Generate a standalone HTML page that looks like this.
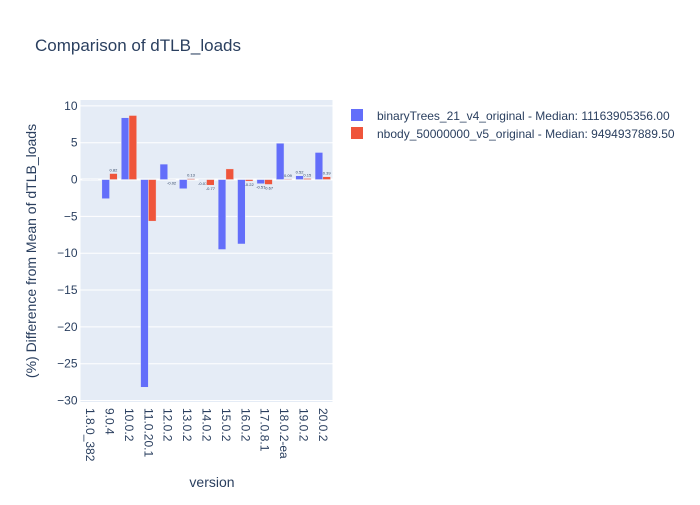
<!DOCTYPE html>
<html><head><meta charset="utf-8">
<style>
body{margin:0;background:#fff;}
svg text{font-family:"Liberation Sans",sans-serif;}
</style></head>
<body>
<svg id="chart" width="700" height="500" xmlns="http://www.w3.org/2000/svg">
<rect x="0" y="0" width="700" height="500" fill="#fff"/>
<rect x="80.5" y="100" width="252" height="302" fill="#e5ecf6"/>
<g id="grid"></g>
<g id="bars"></g>
<g id="yticks"></g>
<g id="xticks"></g>
<text x="35" y="51" font-size="17" fill="#2a3f5f">Comparison of dTLB_loads</text>
<text transform="translate(36,251) rotate(-90)" text-anchor="middle" font-size="14" fill="#2a3f5f">(%) Difference from Mean of dTLB_loads</text>
<text x="212" y="487" text-anchor="middle" font-size="14" fill="#2a3f5f">version</text>
<g>
<g>
<rect x="351" y="109" width="12" height="12" fill="#636efa"/>
<text x="377" y="120" font-size="12" fill="#2a3f5f">binaryTrees_21_v4_original - Median: 11163905356.00</text>
</g>
<g>
<rect x="351" y="127" width="12" height="12" fill="#ef553b"/>
<text x="377" y="138" font-size="12" fill="#2a3f5f">nbody_50000000_v5_original - Median: 9494937889.50</text>
</g>
</g>
</svg>
<script>
const categories=["1.8.0_382","9.0.4","10.0.2","11.0.20.1","12.0.2","13.0.2","14.0.2","15.0.2","16.0.2","17.0.8.1","18.0.2-ea","19.0.2","20.0.2"];
const seriesA=[0,-2.6,8.4,-28.2,2.1,-1.25,-0.07,-9.5,-8.75,-0.57,4.93,0.52,3.68];
const seriesB=[0,0.82,8.7,-5.65,-0.02,0.13,-0.77,1.45,-0.22,-0.67,0.09,0.15,0.39];
const yTicks=[10,5,0,-5,-10,-15,-20,-25,-30];
const colors=["#636efa","#ef553b"];
const NS="http://www.w3.org/2000/svg";
const L=80.5,R=332.5,T=100,B=402;
const yMin=-30.2,yMax=10.8;
function y(v){return T+(yMax-v)/(yMax-yMin)*(B-T);}
const bw=(R-L)/categories.length;
function xc(i){return L+bw*(i+0.5);}
function mk(tag,attrs,parent){const e=document.createElementNS(NS,tag);for(const k in attrs)e.setAttribute(k,attrs[k]);parent.appendChild(e);return e;}
const grid=document.getElementById('grid'),bars=document.getElementById('bars'),yt=document.getElementById('yticks'),xt=document.getElementById('xticks');
yTicks.forEach(t=>{
 const ln=mk('line',{x1:L,x2:R,y1:y(t),y2:y(t),stroke:'#fff','stroke-width':t===0?2:1},grid);
 
 
 const tx=mk('text',{x:L-3,y:y(t)+4,'text-anchor':'end','font-size':12,fill:'#2a3f5f'},yt);
 
 
 tx.textContent=(t<0?'\u2212'+(-t):t);
});
const gw=bw*0.8,w=gw/2;
[seriesA,seriesB].forEach((s,si)=>{
 s.forEach((v,i)=>{
  const x0=xc(i)-gw/2+si*w;
  const y0=Math.min(y(v),y(0)),h=Math.abs(y(v)-y(0));
  const r=mk('rect',{x:x0,y:y0,width:w,height:Math.max(h,0.01),fill:colors[si],stroke:'#e5ecf6','stroke-width':0.5},bars);
  
  
  if(v!==0&&Math.abs(v)<1){
   const ty=v>=0?y(v)-2:y(v)+5;
   const tx=mk('text',{x:x0+w/2,y:ty,'text-anchor':'middle','font-size':4,fill:'#2a3f5f'},bars);
   
   
   tx.textContent=v.toFixed(2);
  }
 });
});
categories.forEach((c,i)=>{
 const tx=mk('text',{transform:`translate(${xc(i)-4},${B+6}) rotate(90)`,'font-size':12,fill:'#2a3f5f'},xt);
 
 
 tx.textContent=c;
});
</script>
</body></html>
